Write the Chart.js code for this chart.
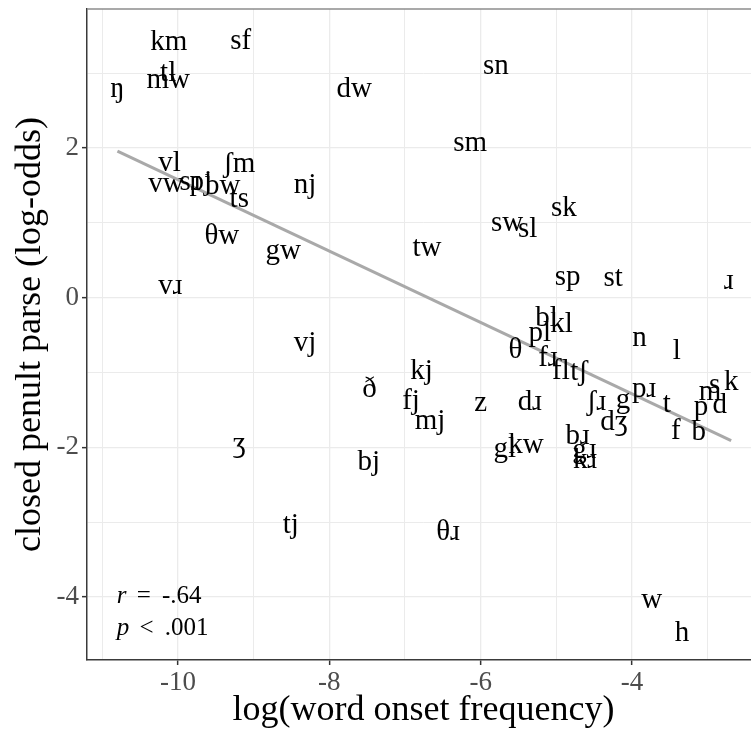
<!DOCTYPE html>
<html>
<head>
<meta charset="utf-8">
<script src="https://cdn.jsdelivr.net/npm/chart.js@4.4.1/dist/chart.umd.min.js"></script>
<style>
body { margin: 0; width: 751px; height: 733px; overflow: hidden; background: #fff; }
</style>
</head>
<body>
<canvas id="myChart" width="770" height="733"></canvas>
<script>
// onset labels
const onsets = ['ŋ', 'km', 'sf', 'tl', 'mw', 'dw', 'sn', 'sm', 'vl', 'ʃm', 'vw', 'sɹ', 'pj', 'bw', 'ts', 'nj',
  'θw', 'gw', 'tw', 'sk', 'sw', 'sl', 'vɹ', 'sp', 'st', 'ɹ', 'vj', 'bl', 'kl', 'pl', 'θ', 'n', 'l', 'fɹ', 'fl',
  'tʃ', 'kj', 'ð', 'fj', 'mj', 'z', 'dɹ', 'ʃɹ', 'g', 'pɹ', 't', 'dʒ', 'f', 'b', 'p', 'd', 'm', 's', 'k',
  'ʒ', 'bj', 'gl', 'kw', 'bɹ', 'gɹ', 'kɹ', 'tj', 'θɹ', 'w', 'h'];
// log(word onset frequency)
const logFreq = [-10.80, -10.12, -9.17, -10.13, -10.13, -7.67, -5.80, -6.14, -10.11, -9.19, -10.16, -9.84, -9.70, -9.41, -9.19, -8.32,
  -9.42, -8.61, -6.71, -4.90, -5.65, -5.38, -10.10, -4.85, -4.25, -2.72, -8.32, -5.13, -4.93, -5.22, -5.54, -3.90, -3.41, -5.11, -4.94,
  -4.70, -6.78, -7.47, -6.92, -6.67, -6.00, -5.35, -4.47, -4.12, -3.84, -3.54, -4.24, -3.42, -3.12, -3.09, -2.84, -2.97, -2.91, -2.69,
  -9.19, -7.48, -5.68, -5.40, -4.72, -4.63, -4.62, -8.51, -6.43, -3.74, -3.34];
// closed penult parse (log-odds)
const logOdds = [2.78, 3.45, 3.47, 3.03, 2.90, 2.82, 3.08, 2.05, 1.82, 1.81, 1.51, 1.53, 1.57, 1.52, 1.32, 1.53,
  0.86, 0.62, 0.67, 1.22, 0.98, 0.94, 0.14, 0.26, 0.27, 0.21, -0.58, -0.25, -0.32, -0.45, -0.66, -0.55, -0.69, -0.77, -0.94,
  -0.96, -0.95, -1.19, -1.35, -1.63, -1.42, -1.37, -1.37, -1.37, -1.23, -1.41, -1.63, -1.75, -1.77, -1.48, -1.41, -1.28, -1.18, -1.10,
  -1.97, -2.17, -1.99, -1.94, -1.82, -2.03, -2.14, -3.02, -3.10, -4.06, -4.45];

// fitted line ends
const fitX = [-10.80, -2.69];
const fitY = [1.96, -1.91];

// axes
const xTicks = [-11, -10, -9, -8, -7, -6, -5, -4, -3];
const yTicks = [-4, -3, -2, -1, 0, 1, 2, 3];
const xMin = -11.202, xMax = -2.309;
const yMin = -4.842, yMax = 3.858;

// correlation note: italic symbol, operator, number
const statX = -10.81;
const statY = [-4.08, -4.51];
const statText = [['r', ' = ', '-.64'], ['p', ' < ', '.001']];

const serif = '"Liberation Serif", "DejaVu Serif", serif';
Chart.defaults.font.family = serif;

let points = [];
for (let i = 0; i < onsets.length; i++) {
    points.push({ x: logFreq[i], y: logOdds[i] });
}
let fitLine = fitX.map((v, i) => ({ x: v, y: fitY[i] }));

// texte à la place des points
const labelPlugin = {
    id: 'onsetLabels',
    afterDatasetsDraw(chart) {
        const ctx = chart.ctx;
        const meta = chart.getDatasetMeta(0);
        ctx.save();
        ctx.font = '29px ' + serif;
        ctx.fillStyle = '#000';
        ctx.textAlign = 'center';
        ctx.textBaseline = 'alphabetic';
        meta.data.forEach(function (pt, i) {
            let m = ctx.measureText(onsets[i]);
            ctx.fillText(onsets[i], pt.x, pt.y + m.actualBoundingBoxAscent / 2);
        });

        // r et p
        ctx.textAlign = 'left';
        let ax = chart.scales.x.getPixelForValue(statX);
        statText.forEach(function (parts, i) {
            let ay = chart.scales.y.getPixelForValue(statY[i]);
            let cx = ax;
            ctx.font = 'italic 25px ' + serif;
            ctx.fillText(parts[0], cx, ay);
            cx += ctx.measureText(parts[0]).width;
            ctx.font = '25px ' + serif;
            ctx.fillText(parts[1], cx + 4, ay);
            cx += ctx.measureText(parts[1]).width + 9;
            ctx.fillText(parts[2], cx, ay);
        });

        // bord du haut
        const area = chart.chartArea;
        ctx.strokeStyle = '#8c8c8c';
        ctx.lineWidth = 1.5;
        ctx.beginPath();
        ctx.moveTo(area.left, area.top);
        ctx.lineTo(area.right, area.top);
        ctx.stroke();
        ctx.restore();
    }
};

function gridColor(ctx) {
    return '#ebebeb';
}
function gridWidth(ctx) {
    return ctx.tick && ctx.tick.value % 2 === 0 ? 1.3 : 1;
}
function tickMarkColor(ctx) {
    return ctx.tick && ctx.tick.value % 2 === 0 ? '#333333' : 'rgba(0,0,0,0)';
}

const ctx = document.getElementById('myChart').getContext('2d');
const myChart = new Chart(ctx, {
    type: 'scatter',
    data: {
        datasets: [
            {
                label: 'onsets',
                data: points,
                pointRadius: 0,
                pointHoverRadius: 0,
            },
            {
                type: 'line',
                label: 'fit',
                data: fitLine,
                borderColor: '#a9a9a9',
                borderWidth: 3,
                pointRadius: 0,
                fill: false,
            }
        ]
    },
    options: {
        responsive: false,
        animation: false,
        layout: { padding: { top: 9, right: 10, left: 0, bottom: 0 } },
        plugins: {
            legend: { display: false },
            tooltip: { enabled: false }
        },
        scales: {
            x: {
                type: 'linear',
                min: xMin,
                max: xMax,
                afterBuildTicks: s => { s.ticks = xTicks.map(v => ({ value: v })); },
                afterFit: s => { s.height = 73; s.paddingLeft = 0; s.paddingRight = 0; },
                grid: { color: gridColor, lineWidth: gridWidth, tickColor: tickMarkColor, tickLength: 5, tickWidth: 1.5 },
                border: { color: '#3a3a3a', width: 1.5 },
                ticks: {
                    color: '#4d4d4d',
                    font: { size: 27 },
                    padding: 2,
                    autoSkip: false,
                    maxRotation: 0,
                    callback: v => (v % 2 === 0 ? String(v) : '')
                },
                title: {
                    display: true,
                    text: 'log(word onset frequency)',
                    color: '#000',
                    font: { size: 36 },
                    padding: { top: 0, bottom: 1 }
                }
            },
            y: {
                type: 'linear',
                min: yMin,
                max: yMax,
                afterBuildTicks: s => { s.ticks = yTicks.map(v => ({ value: v })); },
                afterFit: s => { s.width = 87; s.paddingTop = 0; s.paddingBottom = 0; },
                grid: { color: gridColor, lineWidth: gridWidth, tickColor: tickMarkColor, tickLength: 5, tickWidth: 1.5 },
                border: { color: '#3a3a3a', width: 1.5 },
                ticks: {
                    color: '#4d4d4d',
                    font: { size: 27 },
                    padding: 3,
                    autoSkip: false,
                    callback: v => (v % 2 === 0 ? String(v) : '')
                },
                title: {
                    display: true,
                    text: 'closed penult parse (log-odds)',
                    color: '#000',
                    font: { size: 36 },
                    padding: { top: 9, bottom: 0 }
                }
            }
        }
    },
    plugins: [labelPlugin]
});
</script>
</body>
</html>
